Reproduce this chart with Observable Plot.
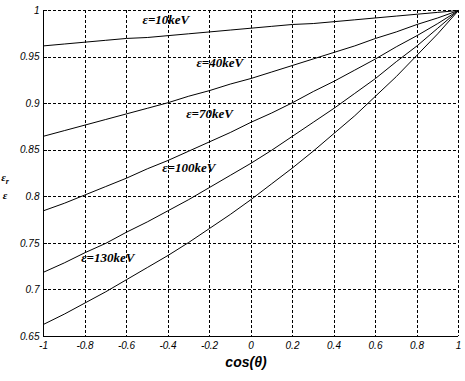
<!DOCTYPE html>
<html><head><meta charset="utf-8">
<script src="https://cdn.jsdelivr.net/npm/d3@7"></script>
<script src="https://cdn.jsdelivr.net/npm/@observablehq/plot@0.6"></script>
<style>body{margin:0;background:#fff}</style>
</head><body><div id="chart"></div>
<script>
const cosTheta = [-1,-0.9,-0.8,-0.7,-0.6,-0.5,-0.4,-0.3,-0.2,-0.1,0,0.1,0.2,0.3,0.4,0.5,0.6,0.7,0.8,0.9,1];
const seriesNames = ["ε=10keV","ε=40keV","ε=70keV","ε=100keV","ε=130keV"];
const ratio10  = [0.962,0.964,0.966,0.968,0.970,0.971,0.973,0.975,0.977,0.979,0.981,0.983,0.985,0.986,0.988,0.990,0.992,0.994,0.996,0.998,1];
const ratio40  = [0.865,0.871,0.877,0.883,0.889,0.895,0.901,0.908,0.914,0.921,0.927,0.934,0.941,0.948,0.955,0.962,0.970,0.977,0.985,0.992,1];
const ratio70  = [0.785,0.793,0.802,0.811,0.820,0.830,0.839,0.849,0.859,0.869,0.880,0.890,0.901,0.913,0.924,0.936,0.948,0.961,0.973,0.986,1];
const ratio100 = [0.719,0.729,0.740,0.750,0.762,0.773,0.785,0.797,0.810,0.823,0.836,0.850,0.865,0.880,0.895,0.911,0.927,0.945,0.962,0.981,1];
const ratio130 = [0.663,0.674,0.686,0.698,0.711,0.724,0.737,0.751,0.766,0.781,0.797,0.814,0.831,0.849,0.868,0.887,0.908,0.929,0.952,0.975,1];
const labelCos   = [-0.41,-0.15,-0.2,-0.3,-0.69];
const labelRatio = [0.990,0.944,0.889,0.831,0.734];
const xTicks = [-1,-0.8,-0.6,-0.4,-0.2,0,0.2,0.4,0.6,0.8,1];
const xTickLabels = ["-1","-0.8","-0.6","-0.4","-0.2","0","0.2","0.4","0.6","0.8","1"];
const yTicks = [0.65,0.7,0.75,0.8,0.85,0.9,0.95,1];
const yTickLabels = ["0.65","0.7","0.75","0.8","0.85","0.9","0.95","1"];

const allSeries = [ratio10, ratio40, ratio70, ratio100, ratio130];
const rows = [];
allSeries.forEach((vals, i) => cosTheta.forEach((c, j) => rows.push({cos: c, ratio: vals[j], name: seriesNames[i]})));
const labels = seriesNames.map((n, i) => ({name: n, cos: labelCos[i], ratio: labelRatio[i]}));

const grid = {stroke: "#000", strokeOpacity: 1, strokeWidth: 1, strokeDasharray: "3,2", shapeRendering: "crispEdges"};
const tickFont = {fontFamily: "Liberation Sans", fontStyle: "italic", fontSize: 10};

const plot = Plot.plot({
  width: 465, height: 381,
  marginLeft: 43, marginRight: 7, marginTop: 10, marginBottom: 45,
  style: {background: "#fff", color: "#000", fontFamily: "Liberation Sans"},
  x: {domain: [-1, 1]},
  y: {domain: [0.65, 1]},
  marks: [
    Plot.gridX(xTicks, grid),
    Plot.gridY(yTicks, grid),
    Plot.ruleX([-1], {stroke: "#000", strokeWidth: 1, shapeRendering: "crispEdges"}),
    Plot.ruleY([0.65], {stroke: "#000", strokeWidth: 1, shapeRendering: "crispEdges"}),
    Plot.tickY(yTicks, {y: d => d, stroke: "#000", insetRight: 411, shapeRendering: "crispEdges"}),
    Plot.axisX(xTicks, {tickSize: 0, tickPadding: 5, label: null, tickFormat: (d, i) => xTickLabels[i], ...tickFont}),
    Plot.axisY(yTicks, {tickSize: 0, tickPadding: 4, label: null, tickFormat: (d, i) => yTickLabels[i], ...tickFont}),
    Plot.line(rows, {x: "cos", y: "ratio", z: "name", stroke: "#000", strokeWidth: 1}),
    Plot.text(labels, {x: "cos", y: "ratio", text: "name", fontFamily: "Liberation Serif", fontWeight: "bold", fontStyle: "italic", fontSize: 13, fill: "#000"})
  ]
});
document.getElementById("chart").append(plot);

const svg = d3.select(plot);
svg.append("text").attr("x", 246).attr("y", 367).attr("text-anchor", "middle")
  .attr("font-family", "Liberation Sans").attr("font-weight", "bold").attr("font-style", "italic").attr("font-size", 14)
  .text("cos(θ)");
const yl = svg.append("text").attr("font-family", "Liberation Serif").attr("font-weight", "bold").attr("font-style", "italic").attr("font-size", 11);
yl.append("tspan").attr("x", 5).attr("y", 181).text("ε");
yl.append("tspan").attr("dy", 3).attr("font-size", 8).text("r");
svg.append("text").attr("x", 5).attr("y", 199).attr("font-family", "Liberation Serif").attr("font-weight", "bold").attr("font-style", "italic").attr("font-size", 11).text("ε");
</script>
</body></html>
